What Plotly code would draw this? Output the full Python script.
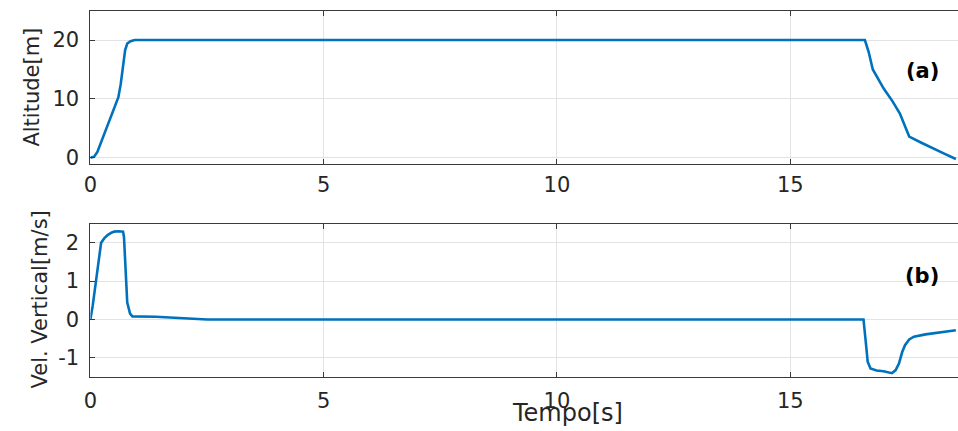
import plotly.graph_objects as go

# Altitude trajectory (take-off, hover at 20 m, landing)
t_alt = [0.0, 0.08, 0.15, 0.25, 0.37, 0.5, 0.6, 0.65, 0.7, 0.745, 0.79, 0.86, 0.95,
         2.0, 4.0, 6.0, 8.0, 10.0, 12.0, 14.0, 16.0, 16.6,
         16.68, 16.77, 17.0, 17.2, 17.35, 17.45, 17.55, 17.8, 18.1, 18.3, 18.55]
altitude = [0.0, 0.2, 1.0, 3.0, 5.5, 8.3, 10.3, 12.5, 15.5, 18.3, 19.4, 19.8, 20.0,
            20.0, 20.0, 20.0, 20.0, 20.0, 20.0, 20.0, 20.0, 20.0,
            18.0, 15.0, 11.8, 9.5, 7.5, 5.5, 3.6, 2.6, 1.4, 0.7, -0.2]

# Vertical velocity
t_vel = [0.0, 0.05, 0.12, 0.19, 0.23, 0.3, 0.37, 0.45, 0.51, 0.6, 0.7, 0.72, 0.76,
         0.79, 0.85, 0.9, 1.4, 2.0, 2.5, 5.0, 10.0, 15.0, 16.57,
         16.62, 16.66, 16.72, 16.85, 17.0, 17.18, 17.26, 17.33, 17.4, 17.46,
         17.55, 17.65, 17.9, 18.2, 18.55]
velocity = [0.0, 0.36, 1.0, 1.73, 2.0, 2.12, 2.2, 2.26, 2.29, 2.3, 2.29, 2.15, 1.2,
            0.44, 0.15, 0.08, 0.07, 0.03, 0.0, 0.0, 0.0, 0.0, 0.0,
            -0.6, -1.1, -1.28, -1.33, -1.35, -1.40, -1.32, -1.15, -0.85, -0.67,
            -0.52, -0.45, -0.39, -0.34, -0.28]

x_ticks = [0, 5, 10, 15]
alt_ticks = [0, 10, 20]
vel_ticks = [-1, 0, 1, 2]
vel_tick_labels = ["-1", "0", "1", "2"]

W, H = 958, 431
LINE = "#0072BD"
TXT = "#262626"
GRID = "#e3e3e3"
AX = "#3a3a3a"
FONT = "DejaVu Sans"

fig = go.Figure()
fig.add_trace(go.Scatter(x=t_alt, y=altitude, mode="lines",
                         line=dict(color=LINE, width=2.6), xaxis="x", yaxis="y",
                         showlegend=False))
fig.add_trace(go.Scatter(x=t_vel, y=velocity, mode="lines",
                         line=dict(color=LINE, width=2.6), xaxis="x2", yaxis="y2",
                         showlegend=False))

x_left = 84
x_dom = [x_left / W, 1.0]
x_end = (W - x_left) / 47.0
top_dom = [1 - 166 / H, 1 - 10.7 / H]
bot_dom = [1 - 382.3 / H, 1 - 226.7 / H]

def xaxis_style(anchor, standoff):
    return dict(domain=x_dom, anchor=anchor, range=[0, x_end], tickvals=x_ticks,
                ticks="inside", ticklen=5, tickcolor=AX, showline=True,
                linecolor=AX, linewidth=1, mirror="ticks", showgrid=True,
                gridcolor=GRID, zeroline=False, ticklabelstandoff=standoff,
                tickfont=dict(family=FONT, size=21, color=TXT))

def yaxis_style(anchor, dom, rng, vals, labels=None):
    ax = dict(domain=dom, anchor=anchor, range=rng, tickvals=vals,
              ticks="inside", ticklen=5, tickcolor=AX, showline=True,
              linecolor=AX, linewidth=1, showgrid=True, gridcolor=GRID,
              zeroline=False, ticklabelstandoff=6,
              tickfont=dict(family=FONT, size=21, color=TXT))
    if labels is not None:
        ax["ticktext"] = labels
    return ax

fig.update_layout(
    width=W, height=H,
    margin=dict(l=0, r=0, t=0, b=0),
    paper_bgcolor="white", plot_bgcolor="white",
    xaxis=xaxis_style("y", 2),
    yaxis=yaxis_style("x", top_dom, [-1, 25], alt_ticks),
    xaxis2=xaxis_style("y2", 5),
    yaxis2=yaxis_style("x2", bot_dom, [-1.5, 2.5], vel_ticks, vel_tick_labels),
    annotations=[
        dict(text="Altitude[m]", x=25 / W, y=1 - 88 / H, xref="paper", yref="paper",
             textangle=-90, showarrow=False, xanchor="center", yanchor="middle",
             font=dict(family=FONT, size=21, color=TXT)),
        dict(text="Vel. Vertical[m/s]", x=33 / W, y=1 - 304 / H, xref="paper",
             yref="paper", textangle=-90, showarrow=False, xanchor="center",
             yanchor="middle", font=dict(family=FONT, size=21, color=TXT)),
        dict(text="Tempo[s]", x=565 / W, y=1 - 419 / H, xref="paper", yref="paper",
             showarrow=False, xanchor="center", yanchor="middle",
             font=dict(family=FONT, size=24, color=TXT)),
        dict(text="<b>(a)</b>", x=922 / W, y=1 - 72 / H, xref="paper", yref="paper",
             showarrow=False, xanchor="center", yanchor="middle",
             font=dict(family=FONT, size=21, color="black")),
        dict(text="<b>(b)</b>", x=922 / W, y=1 - 280 / H, xref="paper", yref="paper",
             showarrow=False, xanchor="center", yanchor="middle",
             font=dict(family=FONT, size=21, color="black")),
    ],
)

fig.write_html("out.html")
